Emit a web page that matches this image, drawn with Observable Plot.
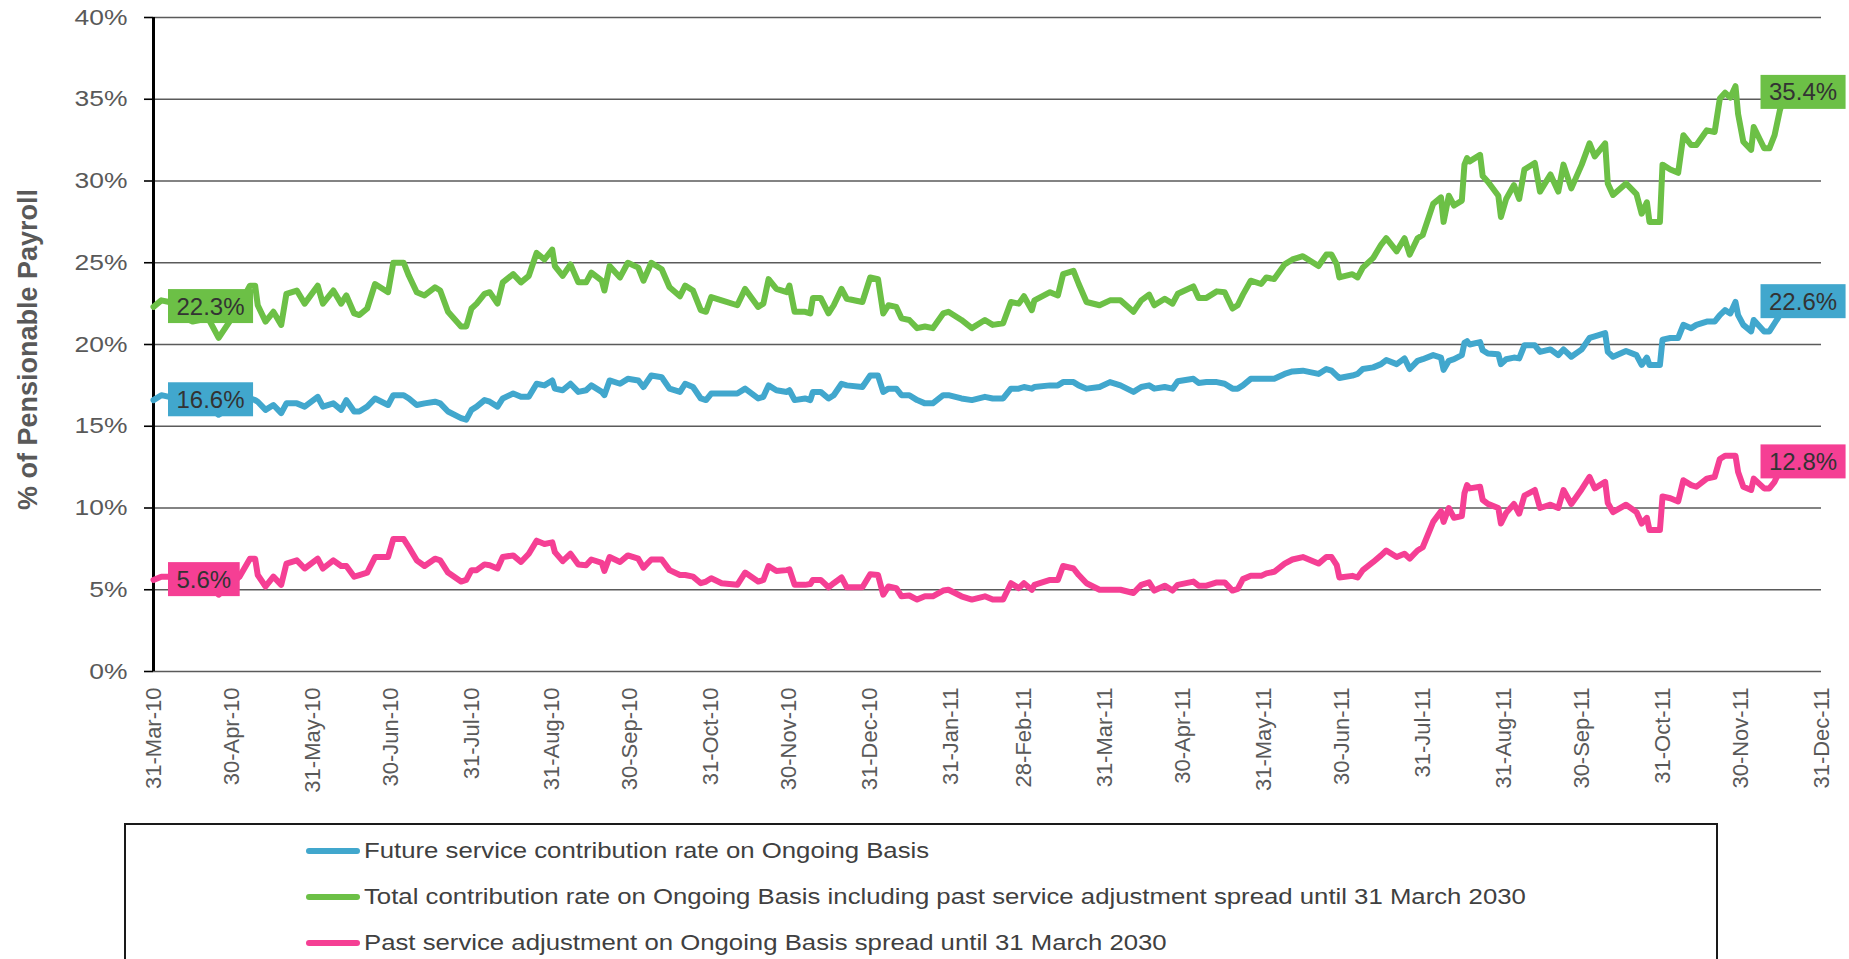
<!DOCTYPE html>
<html>
<head>
<meta charset="utf-8">
<script src="https://cdn.jsdelivr.net/npm/d3@7"></script>
<script src="https://cdn.jsdelivr.net/npm/@observablehq/plot@0.6"></script>
<style>
html, body { margin: 0; padding: 0; background: #fff; overflow: hidden; }
body { font-family: "Liberation Sans", Arial, sans-serif; position: relative; width: 1849px; height: 959px; }
#chart svg { display: block; overflow: visible; }
#legend { position: absolute; left: 124px; top: 823px; width: 1594px; height: 220px; border: 2px solid #1a1a1a; box-sizing: border-box; }
.item { position: absolute; left: 180px; height: 30px; display: flex; align-items: center; white-space: nowrap; }
.sw { width: 54px; height: 6px; border-radius: 3px; margin-right: 4px; flex: none; }
.lt { font-size: 22px; color: #404040; transform-origin: left center; transform: scaleX(1.17); display: inline-block; }
</style>
</head>
<body>
<div id="chart"></div>
<div id="legend"></div>
<script>
// ---- data (values in % of pensionable payroll) ----
const dates = [
"2010-03-31","2010-04-03","2010-04-06","2010-04-10","2010-04-15","2010-04-21","2010-04-25","2010-04-30",
"2010-05-03","2010-05-07","2010-05-09","2010-05-10","2010-05-13","2010-05-16","2010-05-19","2010-05-21","2010-05-25","2010-05-28",
"2010-06-02","2010-06-04","2010-06-08","2010-06-11","2010-06-13","2010-06-16","2010-06-18","2010-06-21","2010-06-24","2010-06-29",
"2010-07-01","2010-07-05","2010-07-07","2010-07-10","2010-07-13","2010-07-17","2010-07-19","2010-07-22","2010-07-27","2010-07-29","2010-07-31",
"2010-08-02","2010-08-05","2010-08-07","2010-08-10","2010-08-12","2010-08-16","2010-08-19","2010-08-22","2010-08-25","2010-08-28","2010-08-31",
"2010-09-01","2010-09-04","2010-09-07","2010-09-10","2010-09-13","2010-09-15","2010-09-19","2010-09-20","2010-09-22","2010-09-26","2010-09-29",
"2010-10-03","2010-10-05","2010-10-08","2010-10-12","2010-10-15","2010-10-19","2010-10-21","2010-10-24","2010-10-27","2010-10-29","2010-10-31",
"2010-11-04","2010-11-10","2010-11-13","2010-11-18","2010-11-20","2010-11-22","2010-11-25","2010-11-29","2010-11-30",
"2010-12-02","2010-12-06","2010-12-08","2010-12-09","2010-12-12","2010-12-15","2010-12-17","2010-12-20","2010-12-22","2010-12-28","2010-12-31",
"2011-01-03","2011-01-05","2011-01-07","2011-01-10","2011-01-12","2011-01-15","2011-01-18","2011-01-21","2011-01-24","2011-01-28","2011-01-30",
"2011-02-04","2011-02-08","2011-02-13","2011-02-16","2011-02-20","2011-02-23","2011-02-26","2011-02-28",
"2011-03-03","2011-03-04","2011-03-10","2011-03-13","2011-03-15","2011-03-19","2011-03-21","2011-03-24","2011-03-29",
"2011-04-02","2011-04-06","2011-04-11","2011-04-14","2011-04-17","2011-04-19","2011-04-23","2011-04-26","2011-04-28",
"2011-05-04","2011-05-06","2011-05-09","2011-05-13","2011-05-16","2011-05-19","2011-05-21","2011-05-23","2011-05-26","2011-05-30",
"2011-06-01","2011-06-04","2011-06-08","2011-06-11","2011-06-15","2011-06-21","2011-06-24","2011-06-26","2011-06-28","2011-06-29",
"2011-07-04","2011-07-06","2011-07-08","2011-07-12","2011-07-15","2011-07-17","2011-07-21","2011-07-24","2011-07-26","2011-07-29","2011-07-31",
"2011-08-04","2011-08-07","2011-08-08","2011-08-10","2011-08-12","2011-08-15","2011-08-16","2011-08-17","2011-08-18","2011-08-22","2011-08-23","2011-08-25","2011-08-29","2011-08-30",
"2011-09-01","2011-09-04","2011-09-06","2011-09-08","2011-09-12","2011-09-14","2011-09-18","2011-09-21","2011-09-23","2011-09-26","2011-09-30",
"2011-10-03","2011-10-05","2011-10-09","2011-10-10","2011-10-12","2011-10-17","2011-10-21","2011-10-23","2011-10-25","2011-10-26","2011-10-30","2011-10-31",
"2011-11-03","2011-11-06","2011-11-08","2011-11-11","2011-11-13","2011-11-17","2011-11-20","2011-11-22","2011-11-24","2011-11-26","2011-11-28","2011-11-29",
"2011-12-01","2011-12-04","2011-12-05","2011-12-09","2011-12-11","2011-12-13","2011-12-15","2011-12-17"
];

const futureRate = [
16.6,16.9,16.8,16.3,16.1,16.2,15.7,16.2,
16.6,16.7,16.6,16.5,16.0,16.3,15.8,16.4,16.4,16.2,
16.8,16.2,16.4,16.0,16.6,15.9,15.9,16.2,16.7,16.3,
16.9,16.9,16.7,16.3,16.4,16.5,16.4,15.9,15.5,15.4,16.0,
16.2,16.6,16.5,16.2,16.7,17.0,16.8,16.8,17.6,17.5,17.8,
17.3,17.2,17.6,17.1,17.2,17.5,17.1,16.9,17.8,17.6,17.9,
17.8,17.4,18.1,18.0,17.3,17.1,17.6,17.4,16.7,16.6,17.0,
17.0,17.0,17.3,16.7,16.8,17.5,17.2,17.1,17.2,
16.6,16.7,16.6,17.1,17.1,16.7,16.9,17.6,17.5,17.4,18.1,
18.1,17.1,17.3,17.3,16.9,16.9,16.6,16.4,16.4,16.9,16.9,
16.7,16.6,16.8,16.7,16.7,17.3,17.3,17.4,
17.3,17.4,17.5,17.5,17.7,17.7,17.5,17.3,17.4,
17.7,17.5,17.1,17.4,17.5,17.3,17.4,17.3,17.75,
17.9,17.65,17.7,17.7,17.6,17.3,17.3,17.5,17.9,17.9,
17.9,17.9,18.2,18.35,18.4,18.2,18.5,18.4,18.1,17.95,
18.1,18.2,18.5,18.6,18.8,19.05,18.8,19.15,18.5,19.0,19.1,
19.35,19.2,18.45,19.0,19.1,19.35,20.1,20.2,20.0,20.15,19.65,19.45,19.4,18.8,
19.1,19.2,19.15,19.95,19.95,19.55,19.7,19.35,19.7,19.25,19.7,
20.4,20.5,20.7,19.55,19.25,19.6,19.35,18.75,19.2,18.75,18.75,20.3,
20.4,20.4,21.2,21.0,21.2,21.4,21.4,21.8,22.1,21.9,22.6,21.8,
21.2,20.8,21.5,20.8,20.8,21.3,21.8,22.6
];

const totalRate = [
22.3,22.7,22.6,21.8,21.4,21.6,20.4,21.6,
22.4,23.6,23.6,22.4,21.4,22.0,21.2,23.1,23.3,22.5,
23.6,22.5,23.3,22.5,23.0,21.9,21.8,22.2,23.7,23.2,
25.0,25.0,24.2,23.2,23.0,23.5,23.3,22.0,21.1,21.1,22.2,
22.5,23.1,23.2,22.5,23.8,24.3,23.8,24.2,25.6,25.2,25.8,
24.8,24.2,24.9,23.8,23.8,24.4,23.9,23.3,24.8,24.1,25.0,
24.7,23.9,25.0,24.6,23.5,22.95,23.6,23.3,22.1,22.0,22.9,
22.7,22.4,23.4,22.3,22.5,24.0,23.4,23.2,23.6,
22.0,22.0,21.9,22.85,22.85,21.9,22.4,23.4,22.8,22.6,24.1,
24.0,21.9,22.4,22.3,21.6,21.5,21.0,21.1,21.0,21.9,22.0,
21.5,21.0,21.5,21.2,21.3,22.6,22.5,22.95,
22.1,22.7,23.2,23.0,24.3,24.5,23.7,22.6,22.4,
22.7,22.7,22.0,22.7,23.05,22.4,22.8,22.5,23.1,
23.55,22.85,22.85,23.25,23.2,22.2,22.4,23.05,23.9,23.7,
24.1,24.0,24.9,25.2,25.4,24.8,25.5,25.5,24.9,24.1,
24.3,24.1,24.7,25.3,26.1,26.5,25.7,26.5,25.5,26.5,26.7,
28.6,29.0,27.5,29.1,28.5,28.8,31.0,31.4,31.2,31.6,30.3,29.95,29.1,27.8,
28.9,29.75,28.9,30.7,31.1,29.35,30.4,29.35,31.0,29.55,31.0,
32.3,31.5,32.3,29.85,29.15,29.85,29.2,28.0,28.7,27.5,27.5,31.0,
30.7,30.5,32.8,32.2,32.2,33.1,33.0,35.05,35.4,35.1,35.8,34.1,
32.4,31.9,33.3,32.0,32.0,32.8,34.3,35.4
];

const pastAdjustment = [
5.6,5.8,5.8,5.5,5.3,5.4,4.7,5.4,
5.8,6.9,6.9,5.9,5.2,5.8,5.3,6.6,6.8,6.3,
6.9,6.3,6.8,6.45,6.45,5.8,5.9,6.05,7.0,7.0,
8.1,8.1,7.6,6.8,6.45,6.9,6.8,6.05,5.5,5.6,6.2,
6.2,6.55,6.5,6.3,7.0,7.1,6.7,7.2,8.0,7.8,7.9,
7.3,6.75,7.2,6.55,6.5,6.85,6.65,6.15,7.0,6.7,7.1,
6.9,6.35,6.85,6.85,6.2,5.9,5.9,5.8,5.4,5.5,5.7,
5.4,5.3,6.05,5.5,5.6,6.45,6.15,6.2,6.25,
5.3,5.3,5.35,5.6,5.6,5.15,5.4,5.75,5.15,5.15,5.95,
5.9,4.7,5.2,5.1,4.6,4.65,4.4,4.6,4.6,4.95,5.0,
4.6,4.4,4.6,4.4,4.4,5.4,5.1,5.4,
5.0,5.3,5.6,5.6,6.45,6.3,5.9,5.4,5.0,
5.0,5.0,4.8,5.3,5.45,4.95,5.25,4.95,5.3,
5.5,5.25,5.25,5.45,5.45,4.95,5.05,5.65,5.85,5.85,
6.0,6.1,6.6,6.85,7.0,6.6,7.0,7.0,6.5,5.75,
5.85,5.75,6.2,6.7,7.1,7.4,7.0,7.2,6.9,7.4,7.6,
9.15,9.8,9.15,10.0,9.4,9.5,10.9,11.4,11.2,11.3,10.5,10.25,10.0,9.05,
9.7,10.25,9.65,10.75,11.1,10.0,10.2,10.0,11.1,10.25,11.15,
11.9,11.2,11.6,10.3,9.75,10.2,9.75,9.05,9.4,8.65,8.65,10.7,
10.6,10.4,11.7,11.4,11.3,11.8,11.9,13.0,13.2,13.2,13.2,12.2,
11.3,11.1,11.8,11.2,11.2,11.6,12.3,12.8
];

const seriesNames = [
  "Future service contribution rate on Ongoing Basis",
  "Total contribution rate on Ongoing Basis including past service adjustment spread until 31 March 2030",
  "Past service adjustment on Ongoing Basis spread until 31 March 2030"
];
const seriesValues = [futureRate, totalRate, pastAdjustment];
const seriesColors = ["#41a7cd", "#6cc046", "#f53f94"];

const xDomain = ["2010-03-31", "2011-12-31"];
const xTickDates = [
"2010-03-31","2010-04-30","2010-05-31","2010-06-30","2010-07-31","2010-08-31","2010-09-30","2010-10-31",
"2010-11-30","2010-12-31","2011-01-31","2011-02-28","2011-03-31","2011-04-30","2011-05-31","2011-06-30",
"2011-07-31","2011-08-31","2011-09-30","2011-10-31","2011-11-30","2011-12-31"
];
const yTicks = [0, 5, 10, 15, 20, 25, 30, 35, 40];
const yTitle = "% of Pensionable Payroll";

// ---- build ----
const parse = d3.utcParse("%Y-%m-%d");
const fmtTick = d3.utcFormat("%d-%b-%y");
const rows = seriesNames.map((name, s) =>
  dates.map((d, i) => ({date: parse(d), value: seriesValues[s][i], series: name})));

const labelsLeft = seriesNames.map((name, s) => ({
  date: parse(dates[0]), value: seriesValues[s][0],
  text: seriesValues[s][0].toFixed(1) + "%", color: seriesColors[s]}));
const n = dates.length - 1;
const labelsRight = seriesNames.map((name, s) => ({
  date: parse(dates[n]), value: seriesValues[s][n],
  text: seriesValues[s][n].toFixed(1) + "%", color: seriesColors[s]}));

const drawOrder = [1, 0, 2];

const chart = Plot.plot({
  width: 1849,
  height: 810,
  marginLeft: 153,
  marginRight: 28,
  marginTop: 17,
  marginBottom: 139,
  style: {fontFamily: "'Liberation Sans', Arial, sans-serif", background: "#fff", overflow: "visible"},
  x: {type: "utc", domain: xDomain.map(parse)},
  y: {domain: [0, 40]},
  marks: [
    Plot.ruleY(yTicks, {stroke: "#5a5a5a", strokeWidth: 1.6}),
    Plot.axisY(yTicks, {tickSize: 9, tickPadding: 17, tickFormat: d => d + "%", fontSize: 22,
      stroke: "#000", strokeWidth: 1.6, fill: "#595959", label: null}),
    Plot.axisX(xTickDates.map(parse), {tickSize: 0, tickPadding: 16, tickRotate: -90, tickFormat: fmtTick,
      fontSize: 22, fill: "#595959", label: null}),
    Plot.ruleX([parse(xDomain[0])], {y1: 0, y2: 40, stroke: "#000", strokeWidth: 3}),
    ...drawOrder.map(s => Plot.lineY(rows[s], {x: "date", y: "value", stroke: seriesColors[s],
      strokeWidth: 6, strokeLinejoin: "round", strokeLinecap: "round"})),
    Plot.text(labelsLeft, {x: "date", y: "value", text: "text", dx: 23, textAnchor: "start",
      fontSize: 24, fill: "#333"}),
    Plot.text(labelsRight, {x: "date", y: "value", text: "text", dx: -16, textAnchor: "start",
      fontSize: 24, fill: "#333"}),
    Plot.text([yTitle], {frameAnchor: "left", dx: -125, dy: 5, rotate: -90, textAnchor: "middle",
      fontSize: 27, fontWeight: "bold", fill: "#595959"})
  ]
});
document.getElementById("chart").append(chart);

// coloured boxes behind value labels (first two text marks)
const textGroups = chart.querySelectorAll('g[aria-label="text"]');
[labelsLeft, labelsRight].forEach((lab, k) => {
  const g = textGroups[k];
  if (!g) return;
  g.querySelectorAll("text").forEach((t, i) => {
    const b = t.getBBox();
    const r = document.createElementNS("http://www.w3.org/2000/svg", "rect");
    r.setAttribute("x", b.x - 8.5);
    r.setAttribute("y", b.y + b.height / 2 - 17);
    r.setAttribute("width", b.width + 17);
    r.setAttribute("height", 34);
    r.setAttribute("fill", lab[i].color);
    if (t.getAttribute("transform")) r.setAttribute("transform", t.getAttribute("transform"));
    t.parentNode.insertBefore(r, t);
  });
});
// widen y tick labels as in the reference
chart.querySelectorAll('g[aria-label="y-axis tick label"] text').forEach(t => {
  const w = t.getComputedTextLength();
  t.setAttribute("textLength", (w * 1.2).toFixed(1));
  t.setAttribute("lengthAdjust", "spacingAndGlyphs");
});

// legend
const legend = document.getElementById("legend");
seriesNames.forEach((name, s) => {
  const item = document.createElement("div");
  item.className = "item";
  item.style.top = (11 + s * 46) + "px";
  const sw = document.createElement("span");
  sw.className = "sw";
  sw.style.background = seriesColors[s];
  const lt = document.createElement("span");
  lt.className = "lt";
  lt.textContent = name;
  item.append(sw, lt);
  legend.append(item);
});
</script>
</body>
</html>
